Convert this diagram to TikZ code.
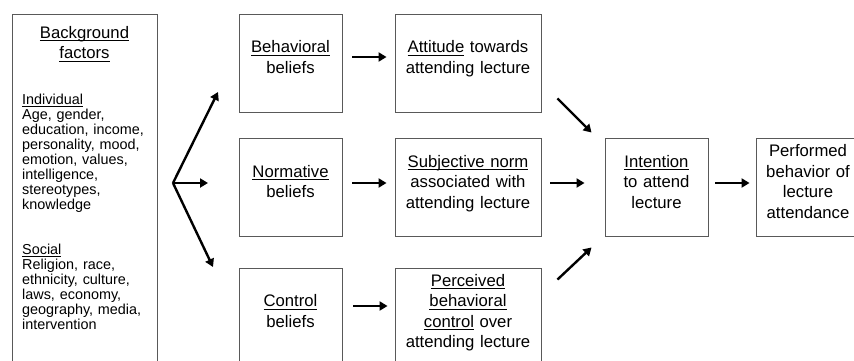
\documentclass[tikz,border=0pt]{standalone}
\usepackage{amsmath}
\usepackage{fontspec}
\setmainfont{Liberation Sans}
\usetikzlibrary{arrows.meta}

\newcommand{\uln}[1]{\underline{\smash[b]{#1}}}

\tikzset{
  frame/.style={draw=black!65, line width=0.9pt},
  box/.style={frame, minimum width=103pt, minimum height=98pt, inner sep=0pt,
    text width=99pt, align=center, font=\fontsize{16.7pt}{20.5pt}\selectfont,
    execute at begin node={\rule{0pt}{13pt}},
    execute at end node={\rule[-13pt]{0pt}{13pt}}},
  widebox/.style={box, minimum width=146pt, text width=142pt},
  head/.style={inner sep=0pt, text width=140pt, align=center,
    font=\fontsize{16.7pt}{20.5pt}\selectfont,
    execute at begin node={\rule{0pt}{13pt}},
    execute at end node={\rule[-13pt]{0pt}{13pt}}},
  small/.style={inner sep=0pt, anchor=north west, text width=133pt, align=left,
    font=\fontsize{14.4pt}{15pt}\selectfont,
    execute at begin node={\rule{0pt}{11pt}}},
  arr/.style={-{Triangle[length=8pt,width=9pt]}, line width=2.4pt}
}

\begin{document}
\begin{tikzpicture}[x=1pt, y=1pt]
    \path[use as bounding box, clip] (0,0) rectangle (854,360);

    % background factors
    \node[frame, minimum width=145pt, minimum height=356pt] (bg) at (84.5,168) {};
    \node[head] (bgT) at (84.5,311.5) {\uln{Background}\\\uln{factors}};
    \node[small] (indiv) at (22,267) {\uln{Individual}\\Age, gender,\\education, income,\\personality, mood,\\emotion, values,\\intelligence,\\stereotypes,\\knowledge};
    \node[small] (social) at (22,117) {\uln{Social}\\Religion, race,\\ethnicity, culture,\\laws, economy,\\geography, media,\\intervention};

    % beliefs
    \node[box] (beh) at (290.5,297) {\uln{Behavioral}\\beliefs};
    \node[box] (norm) at (290.5,172.5) {\uln{Normative}\\beliefs};
    \node[box] (ctrl) at (290.5,43) {\uln{Control}\\beliefs};

    % attitude, norm, control
    \node[widebox] (att) at (468,297) {\uln{Attitude} towards\\attending lecture};
    \node[widebox] (subj) at (468,172.5) {\uln{Subjective norm}\\associated with\\attending lecture};
    \node[widebox] (perc) at (468,43) {\uln{Perceived}\\\uln{behavioral}\\\uln{control} over\\attending lecture};

    \node[box] (int) at (656.5,172.5) {\uln{Intention}\\to attend\\lecture};
    \node[box, minimum width=104pt] (perf) at (808,172.5) {Performed\\behavior of\\lecture\\attendance};

    % fan out of the background factors
    \coordinate (fan) at (173,177);
    \coordinate (fanB) at (218,268);
    \coordinate (fanN) at (208,177);
    \coordinate (fanC) at (213,93);
    \draw[arr] (fan) -- (fanB);
    \draw[arr] (fan) -- (fanN);
    \draw[arr] (fan) -- (fanC);

    \draw[arr, shorten <=10pt, shorten >=8pt] ([yshift=6pt]beh.east) -- ([yshift=6pt]att.west);
    \draw[arr, shorten <=10pt, shorten >=8pt] ([yshift=4.5pt]norm.east) -- ([yshift=4.5pt]subj.west);
    \draw[arr, shorten <=11pt, shorten >=7pt] ([yshift=11pt]ctrl.east) -- ([yshift=11pt]perc.west);

    \draw[arr] ([shift={(16,14)}]att.south east) -- ([shift={(-13,5.5)}]int.north west);
    \draw[arr, shorten <=9pt, shorten >=20pt] ([yshift=4.5pt]subj.east) -- ([yshift=4.5pt]int.west);
    \draw[arr] ([shift={(16,-12)}]perc.north east) -- ([shift={(-13,-10.5)}]int.south west);

    \draw[arr, shorten <=7pt, shorten >=6pt] ([yshift=4.5pt]int.east) -- ([yshift=4.5pt]perf.west);
\end{tikzpicture}
\end{document}
